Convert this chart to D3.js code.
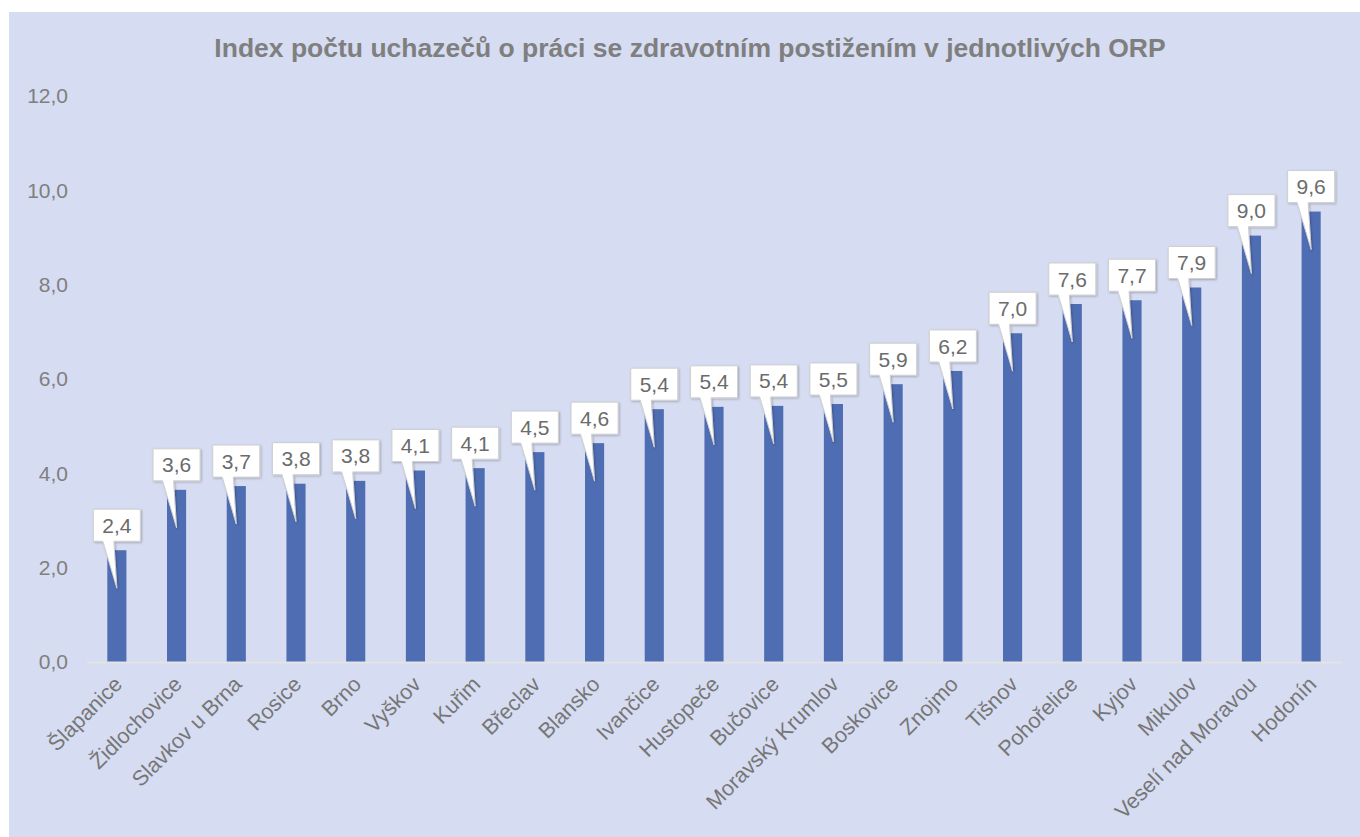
<!DOCTYPE html>
<html>
<head>
<meta charset="utf-8">
<script src="https://cdn.jsdelivr.net/npm/d3@7"></script>
<style>
  body { margin: 0; background: #fff; }
  svg { display: block; font-family: "Liberation Sans", Arial, sans-serif; }
</style>
</head>
<body>
<div id="chart"></div>
<script>
const title = 'Index počtu uchazečů o práci se zdravotním postižením v jednotlivých ORP';
const categories = ['Šlapanice', 'Židlochovice', 'Slavkov u Brna', 'Rosice', 'Brno', 'Vyškov', 'Kuřim',
    'Břeclav', 'Blansko', 'Ivančice', 'Hustopeče', 'Bučovice', 'Moravský Krumlov', 'Boskovice',
    'Znojmo', 'Tišnov', 'Pohořelice', 'Kyjov', 'Mikulov', 'Veselí nad Moravou', 'Hodonín'];
const values = [2.37, 3.65, 3.73, 3.78, 3.84, 4.06, 4.11, 4.45, 4.64, 5.36, 5.41, 5.43, 5.47, 5.89,
    6.17, 6.97, 7.59, 7.67, 7.94, 9.04, 9.55];
const yTicks = [0, 2, 4, 6, 8, 10, 12];

const W = 1360, H = 837;
const svg = d3.select('#chart').append('svg').attr('width', W).attr('height', H);

svg.append('rect').attr('x', 9).attr('y', 12).attr('width', W - 9).attr('height', H - 12)
    .attr('fill', '#d6dcf1');

const defs = svg.append('defs');
const f = defs.append('filter').attr('id', 'sh').attr('x', '-20%').attr('y', '-20%')
    .attr('width', '150%').attr('height', '150%');
f.append('feDropShadow').attr('dx', 1).attr('dy', 1).attr('stdDeviation', 1.2)
    .attr('flood-color', '#000').attr('flood-opacity', 0.25);

const fmt = v => d3.format('.1f')(v).replace('.', ',');

svg.append('text').attr('x', 690).attr('y', 57).attr('text-anchor', 'middle')
    .attr('font-size', 26.5).attr('font-weight', 'bold').attr('fill', '#7f7f7f').text(title);

const x = d3.scaleBand().domain(categories).range([87, 1341]).paddingInner(0.68).paddingOuter(0.34);
const y = d3.scaleLinear().domain([0, 12]).range([662, 96]);

const yAxis = svg.append('g').attr('transform', 'translate(68,0)')
    .call(d3.axisLeft(y).tickValues(yTicks).tickFormat(fmt).tickSize(0).tickPadding(0));
yAxis.select('.domain').remove();
yAxis.selectAll('text').attr('font-size', 21).attr('fill', '#7f7f7f').attr('font-family', null);

svg.selectAll('.bar').data(values).enter().append('rect').attr('class', 'bar')
    .attr('x', (d, i) => x(categories[i]))
    .attr('y', d => y(d))
    .attr('width', x.bandwidth())
    .attr('height', d => y(0) - y(d))
    .attr('fill', '#4f6db3');

svg.append('line').attr('x1', 87).attr('x2', 1341).attr('y1', 662.5).attr('y2', 662.5)
    .attr('stroke', '#e3e3e3').attr('stroke-width', 2);

const xAxis = svg.append('g').attr('transform', 'translate(0,664)')
    .call(d3.axisBottom(x).tickSize(0).tickPadding(0));
xAxis.select('.domain').remove();
xAxis.selectAll('text')
    .attr('font-family', null)
    .attr('font-size', 21.5)
    .attr('fill', '#767676')
    .attr('text-anchor', 'end')
    .attr('dy', '0.7em')
    .attr('dx', '0')
    .attr('transform', 'translate(-4,11) rotate(-45)');

// data label callouts
const bw = 47, bh = 32;
const labels = svg.selectAll('.lbl').data(values).enter().append('g').attr('class', 'lbl');
labels.append('path')
    .attr('d', (d, i) => {
        const cx = x(categories[i]) + x.bandwidth() / 2;
        const top = y(d);
        const bx = cx - bw / 2, by = top - 9 - bh;
        return `M${bx},${by} H${bx + bw} V${by + bh} H${cx - 3} L${cx},${top + 38} L${cx - 14},${by + bh} H${bx} Z`;
    })
    .attr('fill', '#fff').attr('stroke', '#d0d0d0').attr('stroke-width', 1)
    .attr('filter', 'url(#sh)');
labels.append('text')
    .attr('x', (d, i) => x(categories[i]) + x.bandwidth() / 2)
    .attr('y', d => y(d) - 9 - bh / 2)
    .attr('dy', '0.36em')
    .attr('text-anchor', 'middle')
    .attr('font-size', 21)
    .attr('fill', '#6b6b6b')
    .text(d => fmt(d));
</script>
</body>
</html>
